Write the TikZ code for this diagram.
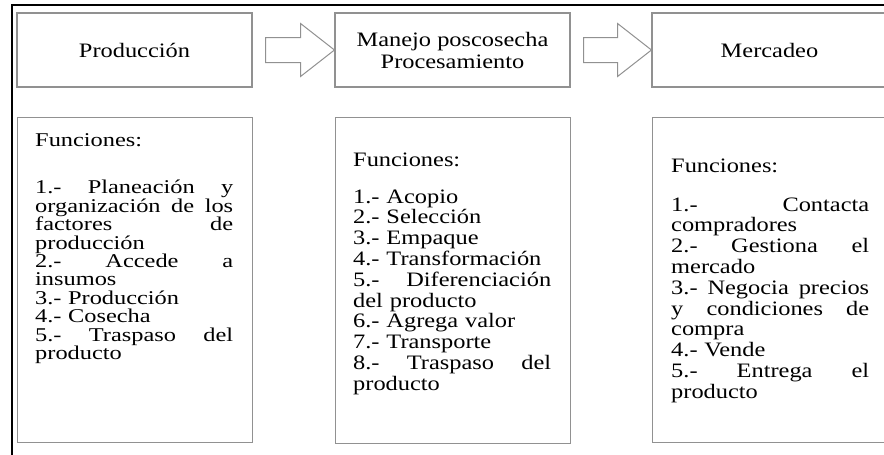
\documentclass[tikz,border=0pt]{standalone}
\usepackage{fontspec}
\setmainfont{Liberation Serif}[FakeStretch=1.19]
\newfontfamily\boxonefont{Liberation Serif}[FakeStretch=1.25]
\definecolor{boxgray}{RGB}{145,145,145}
\newcommand\jl[1]{\leavevmode\hbox to 198pt{#1}}
\newcommand\exactlines{\lineskiplimit=-100pt\lineskip=0pt\parindent=0pt}
\newcommand\noparindent{\parindent=0pt\relax}
\begin{document}
\begin{tikzpicture}[x=1pt,y=-1pt,
  hbox/.style={draw=boxgray, line width=1.1pt, minimum width=235pt, minimum height=74pt,
    inner sep=0pt, align=center, font=\fontsize{20.5}{22}\selectfont\exactlines},
  fbox/.style={draw=boxgray, line width=1.1pt, inner sep=0pt, minimum width=235pt,
    minimum height=325pt, anchor=north west},
  ftext/.style={anchor=north west, inner sep=0pt, text width=198pt, align=left},
  blockarrow/.style={draw=boxgray, line width=1pt, line join=miter},
  frameline/.style={draw=black, line width=1.6pt}]
\useasboundingbox (0,0) rectangle (884,455);
\clip (0,0) rectangle (884,455);
\fill[white] (0,0) rectangle (884,455);

% outer frame
\coordinate (fbl) at (12,462);
\coordinate (ftl) at (12,5);
\coordinate (ftr) at (892,5);
\draw[frameline] (fbl) -- (ftl) -- (ftr);

% header boxes
\node[hbox] (p1) at (134.5,50) {Producción};
\node[hbox] (p2) at (452.5,50) {Manejo poscosecha\\Procesamiento};
\node[hbox] (p3) at (769.5,50) {Mercadeo};

% block arrows
\draw[blockarrow] ([shift={(13,-12.5)}]p1.east) -- ([shift={(48,-12.5)}]p1.east)
  -- ([shift={(48,-26.5)}]p1.east) -- (p2.west) -- ([shift={(48,26.5)}]p1.east)
  -- ([shift={(48,12.5)}]p1.east) -- ([shift={(13,12.5)}]p1.east) -- cycle;
\draw[blockarrow] ([shift={(13,-12.5)}]p2.east) -- ([shift={(47,-12.5)}]p2.east)
  -- ([shift={(47,-26.5)}]p2.east) -- (p3.west) -- ([shift={(47,26.5)}]p2.east)
  -- ([shift={(47,12.5)}]p2.east) -- ([shift={(13,12.5)}]p2.east) -- cycle;

% function boxes
\node[fbox] (f1) at (17,117) {};
\node[fbox, minimum height=326pt] (f2) at (335,117) {};
\node[fbox] (f3) at (652,117) {};

\node[ftext, font=\boxonefont\fontsize{19.5}{18.4}\selectfont\noparindent] (t1) at ([shift={(18,16.1)}]f1.north west)
{\strut Funciones:\\[27.6pt]
\jl{1.-\hfill Planeación\hfill y}\\
\jl{organización\hfill de\hfill los}\\
\jl{factores\hfill de}\\
producción\\
\jl{2.-\hfill Accede\hfill a}\\
insumos\\
3.- Producción\\
4.- Cosecha\\
\jl{5.-\hfill Traspaso\hfill del}\\
producto};

\node[ftext, font=\fontsize{20.5}{20.8}\selectfont\exactlines] (t2) at ([shift={(18,34.4)}]f2.north west)
{\strut Funciones:\\[16.2pt]
1.- Acopio\\
2.- Selección\\
3.- Empaque\\
4.- Transformación\\
\jl{5.-\hfill Diferenciación}\\
del producto\\
6.- Agrega valor\\
7.- Transporte\\
\jl{8.-\hfill Traspaso\hfill del}\\
producto};

\node[ftext, font=\fontsize{20.5}{20.8}\selectfont\exactlines] (t3) at ([shift={(19,40.4)}]f3.north west)
{\strut Funciones:\\[18.2pt]
\jl{1.-\hfill Contacta}\\
compradores\\
\jl{2.-\hfill Gestiona\hfill el}\\
mercado\\
\jl{3.-\hfill Negocia\hfill precios}\\
\jl{y\hfill condiciones\hfill de}\\
compra\\
4.- Vende\\
\jl{5.-\hfill Entrega\hfill el}\\
producto};
\end{tikzpicture}
\end{document}
